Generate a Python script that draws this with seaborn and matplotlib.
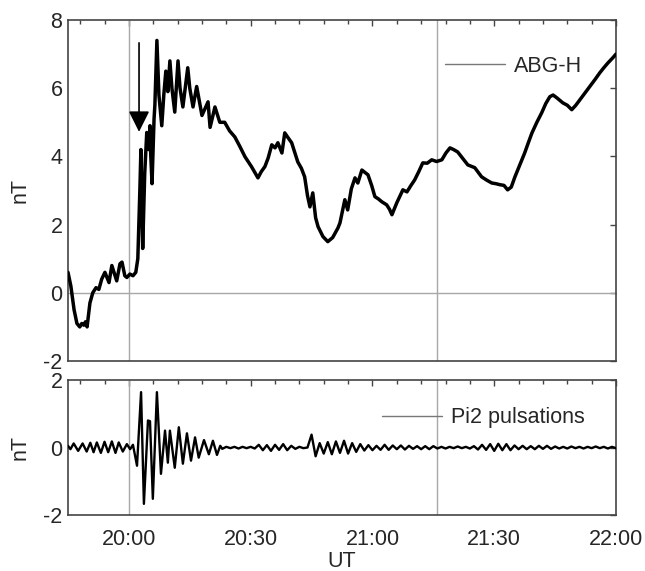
import numpy as np
import pandas as pd
import matplotlib
matplotlib.use("Agg")
import matplotlib.pyplot as plt
from matplotlib.lines import Line2D
from matplotlib.ticker import MultipleLocator
import seaborn as sns

# ---------------- data (time in minutes after 20:00 UT) ----------------
abg_time = [-15.0, -14.3, -13.5, -12.8, -12.1, -11.6, -11.1, -10.7, -10.3, -9.6, -8.9, -8.1,
            -7.4, -6.7, -5.9, -5.4, -4.9, -4.2, -3.4, -3.0, -2.2, -1.7,
            -1.0, -0.5, 0.25, 1.0, 1.7, 2.2, 2.7, 2.96, 3.2, 3.4,
            3.9, 4.4, 4.9, 5.2, 5.4, 5.7, 6.2, 6.4, 6.9, 7.4,
            8.1, 8.6, 9.1, 9.6, 10.1, 10.6, 11.3, 12.1, 12.6, 13.3,
            14.5, 15.0, 15.8, 16.7, 18.0, 19.5, 20.0, 21.2, 22.4, 23.6,
            24.8, 26.1, 27.3, 28.6, 30.2, 31.8, 32.6, 33.5, 34.3, 35.2, 36.0, 36.7, 37.7, 38.4,
            39.2, 40.1, 41.6, 42.5, 43.3, 44.0, 44.6, 45.3, 46.0, 46.6, 47.8, 49.0, 50.2, 51.5,
            52.0, 53.2, 53.9, 54.8, 55.7, 56.4, 57.4, 58.9, 59.8, 60.6, 61.5, 62.3, 63.5, 64.2,
            64.8, 66.0, 67.5, 68.5, 69.5, 70.4, 71.4, 72.4, 73.5, 74.6, 75.8, 77.1, 78.1, 79.1,
            80.0, 81.0, 82.2, 83.5, 85.2, 86.9, 88.2, 89.4, 90.4, 91.4, 92.4, 93.3, 94.2, 95.1,
            96.3, 97.5, 98.4, 99.3, 100.5, 101.7, 102.7, 103.7, 104.5, 105.4, 106.9, 108.0,
            109.1, 110.1, 111.1, 112.3, 113.5, 114.8, 116.0, 117.0, 118.0, 119.2, 120.0]
abg_h = [0.6, 0.2, -0.5, -0.9, -1.0, -0.9, -0.95, -0.85, -1.0, -0.3, 0.0, 0.15,
         0.1, 0.4, 0.6, 0.45, 0.3, 0.8, 0.5, 0.35, 0.85, 0.9,
         0.5, 0.45, 0.55, 0.5, 0.6, 1.0, 3.0, 4.2, 2.5, 1.3,
         3.5, 4.7, 4.2, 4.9, 4.0, 3.2, 5.1, 5.5, 7.4, 5.8,
         4.9, 5.8, 6.5, 5.9, 6.8, 6.0, 5.3, 6.8, 6.0, 5.45,
         6.6, 6.0, 5.45, 6.05, 5.2, 5.6, 4.85, 5.45, 5.0, 5.0,
         4.75, 4.57, 4.3, 3.99, 3.7, 3.37, 3.55, 3.7, 3.95, 4.34, 4.25, 4.4, 4.1, 4.69,
         4.55, 4.4, 3.84, 3.65, 3.4, 2.85, 2.52, 2.93, 2.2, 1.94, 1.65, 1.5, 1.62, 1.9,
         2.05, 2.73, 2.43, 3.05, 3.37, 3.22, 3.6, 3.46, 3.15, 2.82, 2.75, 2.67, 2.58, 2.45,
         2.29, 2.64, 3.02, 2.96, 3.15, 3.31, 3.55, 3.81, 3.8, 3.9, 3.85, 3.9, 4.1, 4.25,
         4.2, 4.13, 3.95, 3.75, 3.67, 3.4, 3.3, 3.22, 3.2, 3.17, 3.15, 3.02, 3.1, 3.4,
         3.75, 4.1, 4.4, 4.69, 5.0, 5.28, 5.55, 5.75, 5.8, 5.72, 5.57, 5.5,
         5.37, 5.5, 5.66, 5.85, 6.04, 6.25, 6.45, 6.6, 6.74, 6.89, 7.0]

pi2_time = [-15.0, -14.4, -13.6, -12.5, -11.4, -10.4, -9.5, -8.7, -7.9, -6.9,
            -6.0, -5.1, -4.2, -3.3, -2.5, -1.5, -0.5, 0.3, 1.0, 2.0,
            3.0, 3.7, 4.7, 5.2, 5.9, 6.9, 7.9, 8.9, 9.6, 10.1,
            11.3, 12.3, 13.3, 14.3, 15.3, 16.3, 17.2, 18.5, 19.7, 20.7,
            21.7, 22.5,
            23, 24, 25, 26, 27, 28, 29, 30, 31, 32, 33, 34, 35, 36, 37, 38, 39, 40,
            41, 42, 43, 44, 45, 46, 47, 48, 49, 50, 51, 52, 53, 54, 55, 56, 57, 58,
            59, 60, 61, 62, 63, 64, 65, 66, 67, 68, 69, 70, 71, 72, 73, 74, 75, 76,
            77, 78, 79, 80, 81, 82, 83, 84, 85, 86, 87, 88, 89, 90, 91, 92, 93, 94,
            95, 96, 97, 98, 99, 100, 101, 102, 103, 104, 105, 106, 107, 108, 109,
            110, 111, 112, 113, 114, 115, 116, 117, 118, 119, 120]
pi2 = [0.05, -0.05, 0.12, -0.1, 0.12, -0.12, 0.14, -0.14, 0.15, -0.16,
       0.17, -0.14, 0.18, -0.16, 0.15, -0.12, 0.1, -0.05, 0.08, -0.54,
       1.64, -1.67, 0.8, 0.78, -1.52, 1.64, -0.78, 0.5, -0.45, 0.5,
       -0.6, 0.6, -0.48, 0.42, -0.39, 0.3, -0.3, 0.22, -0.2, 0.2,
       -0.22, 0.05,
       -0.04, 0.02, -0.02, 0.02, -0.03, 0.02, -0.02, 0.02, -0.03, 0.08,
       -0.08, 0.07, -0.1, 0.08, -0.07, 0.1, -0.08, 0.05,
       -0.04, 0.02, -0.02, 0.0, 0.38, -0.26, 0.13, -0.18, 0.16, -0.2,
       0.18, -0.16, 0.2, -0.18, 0.13, -0.13, 0.1, -0.09,
       0.07, -0.08, 0.05, -0.07, 0.08, -0.07, 0.06, -0.05, 0.06, -0.06,
       0.05, -0.04, 0.04, -0.05, 0.04, -0.05, 0.04, -0.03,
       0.02, -0.03, 0.02, -0.02, 0.03, -0.02, 0.02, -0.03, 0.04, -0.06,
       0.08, -0.07, 0.1, -0.1, 0.11, -0.08, 0.1, -0.08,
       0.06, -0.05, 0.05, -0.05, 0.04, -0.05, 0.05, -0.04, 0.05, -0.04,
       0.03, -0.03, 0.02, -0.03, 0.03,
       -0.02, 0.02, -0.03, 0.02, -0.02, 0.03, -0.02, 0.02, -0.03, 0.02, -0.02]

xtick_pos = [0, 30, 60, 90, 120]
xtick_labels = ["20:00", "20:30", "21:00", "21:30", "22:00"]
vline_times = [0, 76]
arrow_time, arrow_top, arrow_tip = 2.5, 7.33, 4.72

abg_df = pd.DataFrame({"t": abg_time, "nT": abg_h})
pi2_df = pd.DataFrame({"t": pi2_time, "nT": pi2})

# ---------------- style ----------------
sns.set_style("white")
plt.rcParams["font.family"] = ["Liberation Sans", "DejaVu Sans"]
plt.rcParams["axes.unicode_minus"] = False
FS = 15.5
spine_c = "#444444"
grey = "#a8a8a8"

fig = plt.figure(figsize=(6.45, 5.71), dpi=100)
fig.patch.set_facecolor("white")
ax1 = fig.add_axes([68 / 645, 1 - 361 / 571, 548 / 645, 341 / 571])
ax2 = fig.add_axes([68 / 645, 1 - 515 / 571, 548 / 645, 135 / 571])

for ax in (ax1, ax2):
    for v in vline_times:
        ax.axvline(v, color=grey, lw=1.0, zorder=1)
ax1.axhline(0, color=grey, lw=1.0, zorder=1)

sns.lineplot(data=abg_df, x="t", y="nT", ax=ax1, color="black", lw=2.5,
             estimator=None, sort=False, zorder=3)
sns.lineplot(data=pi2_df, x="t", y="nT", ax=ax2, color="black", lw=1.7,
             estimator=None, sort=False, zorder=3)

ax1.annotate("", xy=(arrow_time, arrow_tip), xytext=(arrow_time, arrow_top),
             arrowprops=dict(arrowstyle="-|>", color="black", lw=1.2,
                             mutation_scale=32, shrinkA=0, shrinkB=0),
             zorder=4)

for ax, ylim, yt in ((ax1, (-2, 8), [-2, 0, 2, 4, 6, 8]), (ax2, (-2, 2), [-2, 0, 2])):
    ax.set_xlim(-15, 120)
    ax.set_ylim(*ylim)
    ax.set_yticks(yt)
    ax.set_yticklabels([str(v) for v in yt])
    ax.set_xticks(xtick_pos)
    ax.xaxis.set_minor_locator(MultipleLocator(6))
    ax.tick_params(axis="both", which="both", direction="in", top=True, right=True,
                   color=spine_c, width=1.0, labelsize=FS)
    ax.tick_params(axis="y", which="major", length=4, pad=4)
    ax.tick_params(axis="x", which="major", length=4, pad=10)
    ax.tick_params(axis="x", which="minor", length=3)
    for s in ax.spines.values():
        s.set_color(spine_c)
        s.set_linewidth(1.2)
    ax.set_ylabel("nT", fontsize=FS)
    ax.set_xlabel("")

ax1.set_xticklabels([])
ax2.set_xticklabels(xtick_labels)
ax2.set_xlabel("UT", fontsize=FS, labelpad=1)
ax1.yaxis.set_label_coords(-0.068, 0.5)
ax2.yaxis.set_label_coords(-0.068, 0.5)

ax1.legend(handles=[Line2D([], [], color="#777777", lw=1.0)], labels=["ABG-H"],
           loc="center left", bbox_to_anchor=(0.688, 0.865), frameon=False,
           fontsize=FS, handlelength=2.8, handletextpad=0.4, borderpad=0,
           borderaxespad=0)
ax2.legend(handles=[Line2D([], [], color="#777777", lw=1.0)], labels=["Pi2 pulsations"],
           loc="center left", bbox_to_anchor=(0.573, 0.72), frameon=False,
           fontsize=FS, handlelength=2.8, handletextpad=0.4, borderpad=0,
           borderaxespad=0)

fig.savefig("out.png", dpi=100, facecolor="white")
